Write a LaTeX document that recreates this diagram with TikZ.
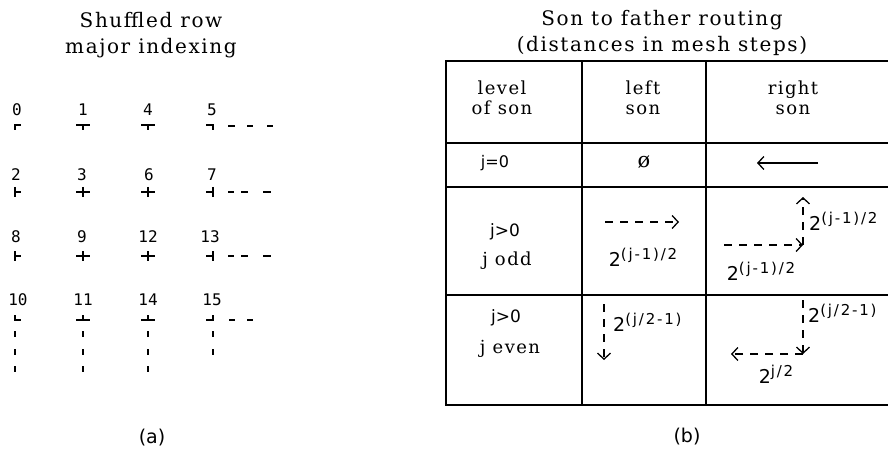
\documentclass[tikz,border=0pt]{standalone}
\usepackage{fontspec}
\setmainfont{DejaVu Serif}[LetterSpace=8]
\newfontfamily\sansf{DejaVu Sans}
\newfontfamily\expf[LetterSpace=12]{DejaVu Sans}
\newfontfamily\monof{DejaVu Sans Mono}
\usetikzlibrary{arrows.meta}
\newcommand{\twopow}[1]{{\sansf\fontsize{19}{19}\selectfont 2\raisebox{7pt}{\expf\fontsize{15}{15}\selectfont #1}}}
\tikzset{
  title/.style={font=\fontsize{20}{26}\selectfont, align=center, inner sep=0pt},
  cell/.style={font=\fontsize{18}{20}\selectfont, align=center, inner sep=0pt},
  scell/.style={font=\sansf\fontsize{16}{18}\selectfont, inner sep=0pt},
  num/.style={font=\monof\fontsize{16}{18}\selectfont, inner sep=0pt},
  lbl/.style={inner sep=0pt},
  capt/.style={font=\sansf\fontsize{19}{22}\selectfont, inner sep=0pt},
  tick/.style={line width=1.7pt},
  vdot/.style={line width=1.7pt},
  rule/.style={line width=1.6pt},
  barb/.style={-{Straight Barb[length=6pt,width=13pt,line width=1.3pt]}},
  dsh/.style={line width=1.3pt, dash pattern=on 8pt off 7pt},
}
\begin{document}
\begin{tikzpicture}[x=1pt,y=-1pt]
\useasboundingbox (0,0) rectangle (888,457);
\clip (0,0) rectangle (888,457);

% ---------- (a) ----------
\node[title] (ta) at (151,35) {Shuffled row\\major indexing};

\node[num] (n0) at (17,110) {0};
\node[num] (n1) at (83,110) {1};
\node[num] (n4) at (148,110) {4};
\node[num] (n5) at (212,110) {5};
\node[num] (n2) at (16,175) {2};
\node[num] (n3) at (82,175) {3};
\node[num] (n6) at (149,175) {6};
\node[num] (n7) at (212,175) {7};
\node[num] (n8) at (16,237) {8};
\node[num] (n9) at (82,237) {9};
\node[num] (n12) at (148,237) {12};
\node[num] (n13) at (210,237) {13};
\node[num] (n10) at (18,300) {10};
\node[num] (n11) at (83,300) {11};
\node[num] (n14) at (148,300) {14};
\node[num] (n15) at (212,300) {15};

% row 1 markers
\draw[tick] (21,125) -- (15,125) -- (15,130);
\draw[tick] (76,125) -- (90,125) (83,125) -- (83,130);
\draw[tick] (141,125) -- (155,125) (148,125) -- (148,130);
\draw[tick] (206,125) -- (213,125) -- (213,130);
\draw[tick] (228,126) -- (235,126) (247,126) -- (253,126) (267,126) -- (273,126);
% row 2 markers
\draw[tick] (15,187) -- (15,197) (15,192) -- (21,192);
\draw[tick] (76,192) -- (90,192) (83,187) -- (83,197);
\draw[tick] (141,192) -- (155,192) (148,187) -- (148,197);
\draw[tick] (206,192) -- (213,192) (213,187) -- (213,197);
\draw[tick] (228,192) -- (234,192) (241,192) -- (248,192) (263,192) -- (271,192);
% row 3 markers
\draw[tick] (15,251) -- (15,261) (15,256) -- (21,256);
\draw[tick] (76,256) -- (90,256) (83,251) -- (83,261);
\draw[tick] (141,256) -- (155,256) (148,251) -- (148,261);
\draw[tick] (206,256) -- (213,256) (213,251) -- (213,261);
\draw[tick] (228,256) -- (234,256) (241,256) -- (248,256) (263,256) -- (271,256);
% row 4 markers
\draw[tick] (15,315) -- (15,320) -- (21,320);
\draw[tick] (76,320) -- (90,320) (83,315) -- (83,320);
\draw[tick] (141,320) -- (155,320) (148,315) -- (148,320);
\draw[tick] (206,320) -- (213,320) -- (213,315);
\draw[tick] (229,320) -- (235,320) (247,320) -- (253,320);
% vertical dots below
\foreach \x in {15,83,148} {
  \draw[vdot] (\x,331) -- (\x,337) (\x,349) -- (\x,355) (\x,366) -- (\x,372);
}
\draw[vdot] (213,331) -- (213,337) (213,349) -- (213,355);

\node[capt] (ca) at (152,438) {(a)};

% ---------- (b) ----------
\node[title] (tb) at (662,33) {Son to father routing\\(distances in mesh steps)};

\draw[rule] (892,61) -- (446,61) -- (446,405) -- (892,405);
\draw[rule] (446,143) -- (892,143);
\draw[rule] (446,187) -- (892,187);
\draw[rule] (446,295) -- (892,295);
\draw[rule] (582,61) -- (582,405);
\draw[rule] (706,61) -- (706,405);

\node[cell] (h1) at (502,98) {level\\of son};
\node[cell] (h2) at (643,98) {left\\son};
\node[cell] (h3) at (793,98) {right\\son};

\node[scell] (r0) at (495,163) {j=0};
\node[cell, font=\fontsize{21}{21}\selectfont] (r0l) at (644,162) {ø};
\coordinate (r0a) at (818,163);
\coordinate (r0b) at (757,163);
\draw[line width=1.3pt, barb] (r0a) -- (r0b);

\node[scell, font=\sansf\fontsize{17}{18}\selectfont] (r1a) at (505,232) {j>0};
\node[cell] (r1b) at (507,261) {j odd};
\coordinate (m1s) at (605,222);
\coordinate (m1e) at (679,222);
\draw[dsh, barb] (m1s) -- (m1e);
\node[lbl] (m1l) at (643,257) {\twopow{(j-1)/2}};
\coordinate (q1s) at (724,245);
\coordinate (q1c) at (803,245);
\coordinate (q1e) at (803,197);
\draw[dsh, barb] (q1s) -- (q1c);
\draw[dsh, barb] (q1c) -- (q1e);
\node[lbl, anchor=west] (q1v) at (809,221) {\twopow{(j-1)/2}};
\node[lbl] (q1h) at (761,271) {\twopow{(j-1)/2}};

\node[scell, font=\sansf\fontsize{17}{18}\selectfont] (r2a) at (506,318) {j>0};
\node[cell] (r2b) at (510,349) {j even};
\coordinate (m2s) at (604,304);
\coordinate (m2e) at (604,360);
\draw[dsh, barb] (m2s) -- (m2e);
\node[lbl, anchor=west] (m2l) at (613,322) {\twopow{(j/2-1)}};
\coordinate (q2s) at (803,300);
\coordinate (q2c) at (803,354);
\coordinate (q2e) at (731,354);
\draw[dsh, barb] (q2s) -- (q2c);
\draw[dsh, barb] (q2c) -- (q2e);
\node[lbl, anchor=west] (q2v) at (808,313) {\twopow{(j/2-1)}};
\node[lbl] (q2h) at (776,374) {\twopow{j/2}};

\node[capt] (cb) at (687,437) {(b)};
\end{tikzpicture}
\end{document}
